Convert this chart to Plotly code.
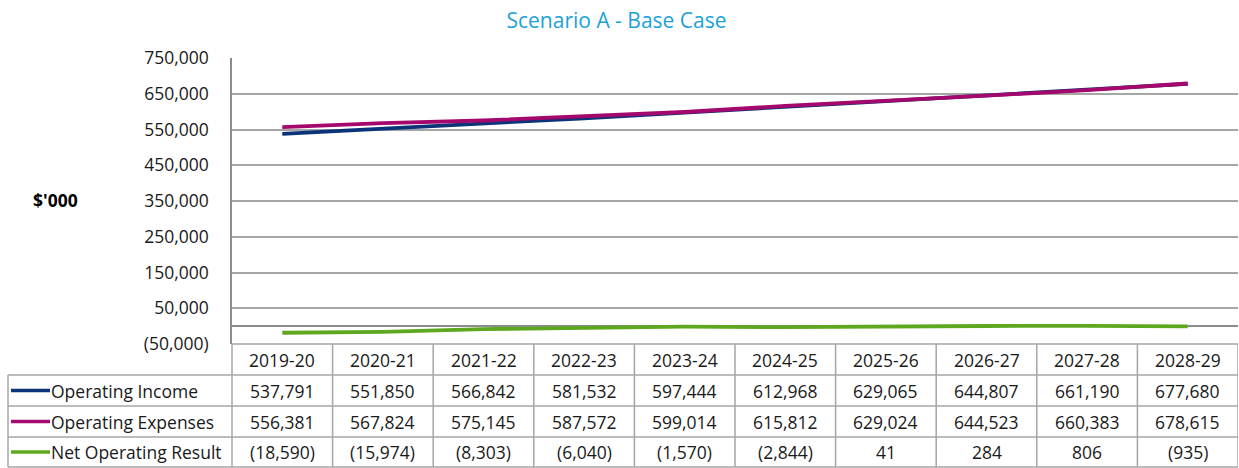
import plotly.graph_objects as go

# ---- data ----
years = ["2019-20", "2020-21", "2021-22", "2022-23", "2023-24",
         "2024-25", "2025-26", "2026-27", "2027-28", "2028-29"]
operating_income = [537791, 551850, 566842, 581532, 597444,
                    612968, 629065, 644807, 661190, 677680]
operating_expenses = [556381, 567824, 575145, 587572, 599014,
                      615812, 629024, 644523, 660383, 678615]
net_operating_result = [-18590, -15974, -8303, -6040, -1570,
                        -2844, 41, 284, 806, -935]
series_names = ["Operating Income", "Operating Expenses", "Net Operating Result"]
series_colors = ["#0B3478", "#A5086C", "#5EA820"]
y_tick_vals = [-50000, 50000, 150000, 250000, 350000, 450000, 550000, 650000, 750000]
title_text = "Scenario A - Base Case"
y_label = "$'000"

W, H = 1239, 468
FONT = "Open Sans"
FS = 17.5
GRID = "#A6A6A6"
TXT = "#1a1a1a"


def fmt(v):
    return f"({abs(v):,})" if v < 0 else f"{v:,}"


def py(px):  # pixel row -> paper y
    return 1 - px / H


def pxx(px):  # pixel col -> paper x
    return px / W


series_values = [operating_income, operating_expenses, net_operating_result]

fig = go.Figure()
for name, vals, col in zip(series_names, series_values, series_colors):
    fig.add_trace(go.Scatter(x=years, y=vals, mode="lines", name=name,
                             line=dict(color=col, width=3.8), showlegend=False))

plot_left, plot_right, plot_top, plot_bottom = 232, 1238, 58, 344
row_edges = [344, 375, 406, 437, 467]
row_centers = [(row_edges[i] + row_edges[i + 1]) / 2 for i in range(4)]

fig.update_layout(
    width=W, height=H, autosize=False, showlegend=False,
    margin=dict(l=0, r=0, t=0, b=0, pad=0),
    paper_bgcolor="white", plot_bgcolor="white",
    font=dict(family=FONT, size=FS, color=TXT),
    title=dict(text=title_text, x=0.4976, xanchor="center", y=py(21), yanchor="middle",
               font=dict(family=FONT, size=21, color="#1BA1DA")),
    xaxis=dict(domain=[pxx(plot_left), pxx(plot_right)], range=[-0.5, 9.5],
               showticklabels=False, showgrid=False, zeroline=False, automargin=False,
               showline=False, fixedrange=True, type="category"),
    yaxis=dict(domain=[py(plot_bottom), py(plot_top)], range=[-50000, 750000],
               tickvals=y_tick_vals, ticktext=[fmt(v) for v in y_tick_vals],
               showgrid=True, gridcolor=GRID, gridwidth=1.5, automargin=False,
               zeroline=True, zerolinecolor="#8C8C8C", zerolinewidth=1.5,
               showline=True, linecolor="#8C8C8C", linewidth=1.5,
               ticks="", ticklabelstandoff=18,
               tickfont=dict(family=FONT, size=FS, color=TXT), fixedrange=True),
)

shapes = []
annotations = []
LINE = dict(color=GRID, width=1.5)
for i, yy in enumerate(row_edges):
    x0 = plot_left if i == 0 else 8
    shapes.append(dict(type="line", xref="paper", yref="paper",
                       x0=pxx(x0), x1=pxx(plot_right), y0=py(yy), y1=py(yy), line=LINE))
shapes.append(dict(type="line", xref="paper", yref="paper",
                   x0=pxx(8), x1=pxx(8), y0=py(row_edges[1]), y1=py(row_edges[-1]), line=LINE))
shapes.append(dict(type="line", xref="paper", yref="paper",
                   x0=pxx(plot_left), x1=pxx(plot_left), y0=py(row_edges[0]), y1=py(row_edges[-1]), line=LINE))
for k in range(1, len(years) + 1):
    shapes.append(dict(type="line", xref="x", yref="paper",
                       x0=k - 0.5, x1=k - 0.5, y0=py(row_edges[0]), y1=py(row_edges[-1]), line=LINE))

for yr in years:
    annotations.append(dict(x=yr, xref="x", y=py(row_centers[0]), yref="paper",
                            text=yr, showarrow=False, xanchor="center", yanchor="middle",
                            font=dict(size=FS)))
for r, (name, vals, col) in enumerate(zip(series_names, series_values, series_colors)):
    yc = row_centers[r + 1]
    shapes.append(dict(type="line", xref="paper", yref="paper",
                       x0=pxx(11), x1=pxx(50), y0=py(yc), y1=py(yc),
                       line=dict(color=col, width=3.5)))
    annotations.append(dict(x=pxx(49), xref="paper", y=py(yc), yref="paper",
                            text=name, showarrow=False, xanchor="left", yanchor="middle",
                            font=dict(size=FS)))
    for yr, v in zip(years, vals):
        annotations.append(dict(x=yr, xref="x", y=py(yc), yref="paper",
                                text=fmt(v), showarrow=False, xanchor="center", yanchor="middle",
                                font=dict(size=FS)))

annotations.append(dict(x=pxx(55), xref="paper", y=py(200), yref="paper", text="<b>" + y_label + "</b>",
                        showarrow=False, xanchor="center", yanchor="middle",
                        font=dict(size=FS, color="#000000")))

fig.update_layout(shapes=shapes, annotations=annotations)
fig.write_html("out.html", config={"displayModeBar": False},
               post_script="document.body.style.margin='0';document.body.style.overflow='hidden';")
